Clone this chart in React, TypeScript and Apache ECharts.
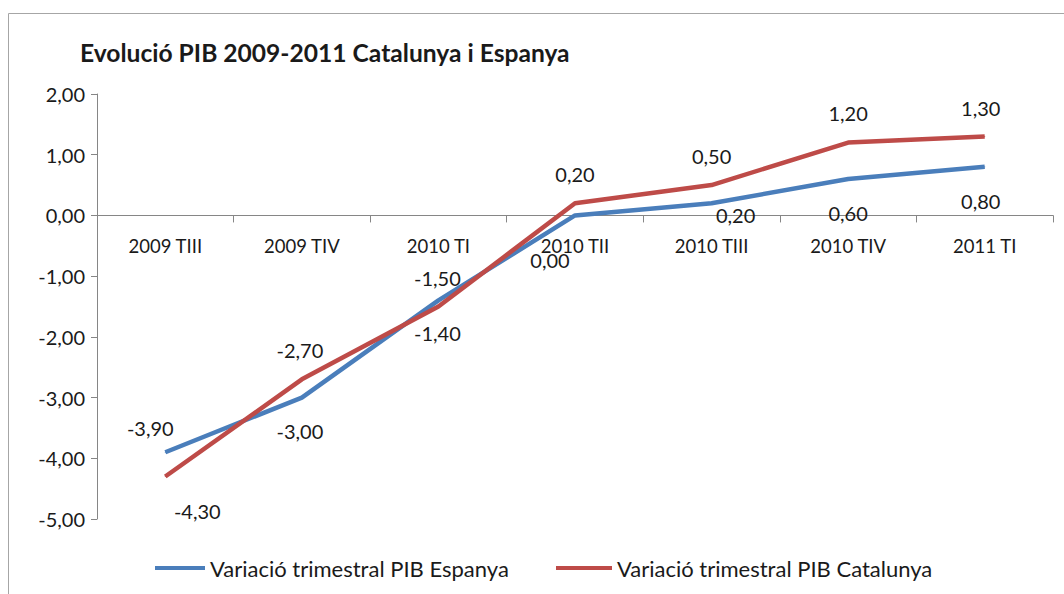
import React, { useEffect, useRef } from "react";
import * as echarts from "echarts";

const categories = ["2009 TIII", "2009 TIV", "2010 TI", "2010 TII", "2010 TIII", "2010 TIV", "2011 TI"];
const espanya = [-3.9, -3.0, -1.4, 0.0, 0.2, 0.6, 0.8];
const catalunya = [-4.3, -2.7, -1.5, 0.2, 0.5, 1.2, 1.3];
const espanyaLabelOffsets = [[-15, -24], [-2, 33], [-1, 33], [-25, 45], [24, 12], [0, 34], [-4, 34]];
const catalunyaLabelOffsets = [[32, 34], [-2, -29], [-1, -29], [0, -29], [0, -29], [0, -30], [-4, -29]];
const seriesNames = ["Variació trimestral PIB Espanya", "Variació trimestral PIB Catalunya"];

const FONT = "Lato, 'Liberation Sans', sans-serif";
const fmt = (v: number) => v.toFixed(2).replace(".", ",");

const Y_MIN = -5;
const Y_MAX = 2;
const GRID_TOP = 94;
const GRID_BOTTOM = 75;
const H = 594;

export default function App() {
  const ref = useRef<HTMLDivElement>(null);
  useEffect(() => {
    if (!ref.current) return;
    const chart = echarts.init(ref.current, undefined, { renderer: "svg" });
    const gridH = H - GRID_TOP - GRID_BOTTOM;
    const xOffset = -gridH * (0 - Y_MIN) / (Y_MAX - Y_MIN);
    const mk = (vals: number[], offs: number[][]) =>
      vals.map((v, i) => ({
        value: v,
        label: { offset: offs[i] },
      }));
    const labelBase = {
      show: true,
      position: "inside",
      align: "center",
      verticalAlign: "middle",
      fontFamily: FONT,
      fontSize: 20,
      color: "#1a1a1a",
      formatter: (p: any) => fmt(p.value),
    };
    const legendText = { fontFamily: FONT, fontSize: 22, color: "#1a1a1a" };
    chart.setOption({
      animation: false,
      backgroundColor: "#ffffff",
      graphic: [
        {
          type: "rect",
          shape: { x: 8.5, y: 13.5, width: 1200, height: 800 },
          style: { fill: "none", stroke: "#a6a6a6", lineWidth: 1 },
          silent: true,
        },
      ],
      title: {
        text: "Evolució PIB 2009-2011 Catalunya i Espanya",
        left: 75,
        top: 35,
        textStyle: { fontFamily: FONT, fontSize: 24.6, fontWeight: "bold", color: "#1a1a1a" },
      },
      grid: { left: 97, right: 11, top: GRID_TOP, bottom: GRID_BOTTOM, containLabel: false },
      legend: [
        {
          data: [seriesNames[0]],
          left: 155,
          top: 557,
          padding: 0,
          icon: "rect",
          itemWidth: 50,
          itemHeight: 4,
          textStyle: legendText,
        },
        {
          data: [seriesNames[1]],
          left: 556,
          top: 557,
          padding: 0,
          icon: "rect",
          itemWidth: 56,
          itemHeight: 4,
          textStyle: legendText,
        },
      ],
      xAxis: {
        type: "category",
        data: categories,
        boundaryGap: true,
        offset: xOffset,
        axisLine: { onZero: false, lineStyle: { color: "#868686", width: 1 } },
        axisTick: { show: true, inside: false, length: 7, alignWithLabel: false, lineStyle: { color: "#868686" } },
        axisLabel: { margin: 21, fontFamily: FONT, fontSize: 18.5, color: "#1a1a1a" },
        splitLine: { show: false },
      },
      yAxis: {
        type: "value",
        min: Y_MIN,
        max: Y_MAX,
        interval: 1,
        axisLine: { show: true, lineStyle: { color: "#868686", width: 1 } },
        axisTick: { show: true, length: 6, lineStyle: { color: "#868686" } },
        axisLabel: { margin: 12, fontFamily: FONT, fontSize: 20, color: "#1a1a1a", formatter: (v: number) => fmt(v) },
        splitLine: { show: false },
      },
      series: [
        {
          name: seriesNames[0],
          type: "line",
          data: mk(espanya, espanyaLabelOffsets),
          symbol: "circle",
          symbolSize: 1,
          showSymbol: true,
          lineStyle: { color: "#4a7ebb", width: 4.5 },
          itemStyle: { color: "#4a7ebb" },
          label: labelBase,
          z: 2,
        },
        {
          name: seriesNames[1],
          type: "line",
          data: mk(catalunya, catalunyaLabelOffsets),
          symbol: "circle",
          symbolSize: 1,
          showSymbol: true,
          lineStyle: { color: "#be4b48", width: 4.5 },
          itemStyle: { color: "#be4b48" },
          label: labelBase,
          z: 3,
        },
      ],
    });
    return () => chart.dispose();
  }, []);
  return <div ref={ref} style={{ position: "absolute", left: 0, top: 0, width: 1064, height: 594 }} />;
}
